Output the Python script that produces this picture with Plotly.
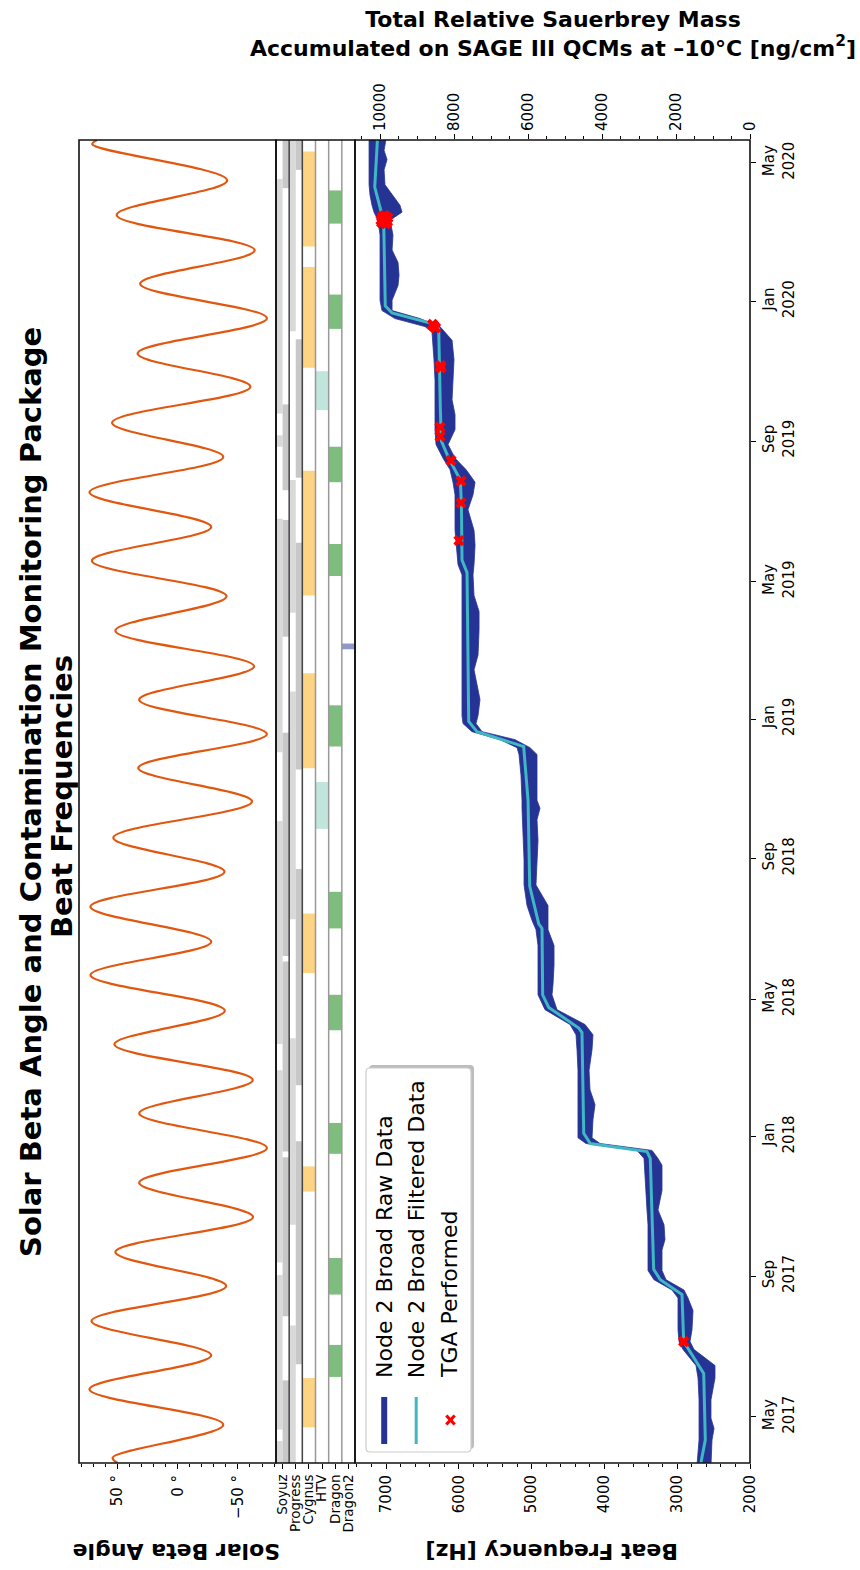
import plotly.graph_objects as go

# ---------------------------------------------------------------- data ----
# Solar beta angle turning points (deg)
beta_dates = [
    "2017-03-21 19:00", "2017-03-26 14:00", "2017-04-24 07:00", "2017-05-25 05:00",
    "2017-06-23 22:00", "2017-07-23 22:00", "2017-08-23 12:00", "2017-09-22 05:00",
    "2017-10-22 19:00", "2017-11-21 19:00", "2017-12-22 02:00", "2018-01-21 10:00",
    "2018-02-19 12:00", "2018-03-22 17:00", "2018-04-21 02:00", "2018-05-22 07:00",
    "2018-06-20 10:00", "2018-07-21 00:00", "2018-08-20 14:00", "2018-09-19 07:00",
    "2018-10-20 22:00", "2018-11-19 05:00", "2018-12-18 22:00", "2019-01-17 22:00",
    "2019-02-16 02:00", "2019-03-19 05:00", "2019-04-18 07:00", "2019-05-19 10:00",
    "2019-06-17 19:00", "2019-07-18 05:00", "2019-08-18 00:00", "2019-09-17 00:00",
    "2019-10-18 12:00", "2019-11-16 14:00", "2019-12-17 05:00", "2020-01-16 12:00",
    "2020-02-14 17:00", "2020-03-16 12:00", "2020-04-15 19:00", "2020-05-17 07:00",
    "2020-05-21 02:00",
]
beta_deg = [
    50.0, 54.0, -37.8, 73.3, -27.8, 71.6, -40.2, 51.8, -62.5, 32.0, -74.1, 32.0,
    -62.3, 52.6, -39.1, 72.5, -27.8, 72.5, -38.8, 53.5, -61.7, 32.8, -74.1, 32.0,
    -63.4, 51.8, -40.5, 71.3, -27.8, 73.3, -37.8, 54.5, -60.3, 33.3, -74.1, 31.2,
    -63.9, 50.7, -41.0, 71.0, 67.0,
]

# Visiting vehicles docked to the ISS (start, end)
vehicle_names = ["Soyuz", "Progress", "Cygnus", "HTV", "Dragon", "Dragon2"]
soyuz_a = [("2017-03-01", "2017-04-10"), ("2017-04-20", "2017-09-02"),
           ("2017-09-13", "2018-02-28"), ("2018-03-23", "2018-10-04"),
           ("2018-12-03", "2019-06-25"), ("2019-08-27", "2019-09-06"),
           ("2019-09-25", "2020-04-17")]
soyuz_b = [("2017-03-01", "2017-06-02"), ("2017-07-28", "2017-12-14"),
           ("2017-12-19", "2018-06-03"), ("2018-06-08", "2018-12-20"),
           ("2019-03-14", "2019-06-24"), ("2019-07-20", "2019-10-03"),
           ("2020-04-09", "2020-06-01")]
progress_a = [("2017-03-01", "2017-07-20"), ("2017-10-16", "2018-03-28"),
              ("2018-07-10", "2019-01-25"), ("2019-04-04", "2019-07-29"),
              ("2019-12-06", "2020-06-01")]
progress_b = [("2017-06-16", "2017-12-28"), ("2018-02-15", "2018-08-23"),
              ("2018-11-18", "2019-06-04"), ("2019-07-31", "2019-11-29"),
              ("2020-04-25", "2020-06-01")]
cygnus = [("2017-04-22", "2017-06-04"), ("2017-11-14", "2017-12-06"),
          ("2018-05-24", "2018-07-15"), ("2018-11-19", "2019-02-10"),
          ("2019-04-19", "2019-08-06"), ("2019-11-04", "2020-01-31"),
          ("2020-02-18", "2020-05-11")]
htv = [("2018-09-27", "2018-11-07"), ("2019-09-28", "2019-11-01")]
dragon = [("2017-06-05", "2017-07-03"), ("2017-08-16", "2017-09-17"),
          ("2017-12-17", "2018-01-13"), ("2018-04-04", "2018-05-05"),
          ("2018-07-02", "2018-08-03"), ("2018-12-08", "2019-01-13"),
          ("2019-05-06", "2019-06-03"), ("2019-07-27", "2019-08-27"),
          ("2019-12-08", "2020-01-07"), ("2020-03-09", "2020-04-07")]
dragon2 = [("2019-03-03", "2019-03-08")]

# Node 2 broad QCM beat frequency: filtered trend (Hz)
filt_dates = [
    "2017-03-20", "2017-04-11", "2017-06-08", "2017-06-29", "2017-07-06", "2017-08-16",
    "2017-08-29", "2017-09-07", "2017-12-13", "2017-12-19", "2017-12-26", "2018-01-04",
    "2018-04-02", "2018-04-06", "2018-04-24", "2018-05-05", "2018-07-02", "2018-07-06",
    "2018-08-08", "2018-10-22", "2018-12-08", "2018-12-21", "2018-12-30", "2019-05-09",
    "2019-05-20", "2019-07-07", "2019-07-29", "2019-08-17", "2019-09-01", "2019-09-30",
    "2019-12-08", "2019-12-13", "2019-12-22", "2019-12-28", "2020-03-11", "2020-04-10",
    "2020-05-22",
]
filt_hz = [
    2680, 2614, 2636, 2842, 2911, 2934, 3232, 3323, 3370, 3415, 4194, 4284,
    4308, 4353, 4765, 4848, 4857, 4902, 5026, 5049, 5109, 5750, 5864, 5887,
    5956, 5964, 5979, 6139, 6240, 6254, 6276, 6391, 6918, 7010, 7032, 7155,
    7117,
]

# Raw data spread: upper and lower frequency envelope (Hz)
raw_dates = [
    "2017-03-20", "2017-04-11", "2017-04-21", "2017-04-30", "2017-05-16", "2017-06-04",
    "2017-06-15", "2017-06-29", "2017-07-06", "2017-07-16", "2017-08-02", "2017-08-13",
    "2017-08-20", "2017-08-29", "2017-09-06", "2017-09-24", "2017-10-03", "2017-10-16",
    "2017-10-29", "2017-11-15", "2017-12-07", "2017-12-13", "2017-12-20", "2017-12-26",
    "2017-12-31", "2018-01-16", "2018-01-29", "2018-02-11", "2018-02-28", "2018-03-18",
    "2018-03-31", "2018-04-09", "2018-04-22", "2018-05-05", "2018-05-14", "2018-05-31",
    "2018-06-17", "2018-07-01", "2018-07-09", "2018-07-22", "2018-08-09", "2018-08-31",
    "2018-09-17", "2018-10-05", "2018-10-15", "2018-10-22", "2018-11-13", "2018-12-01",
    "2018-12-07", "2018-12-14", "2018-12-21", "2018-12-28", "2019-01-04", "2019-01-18",
    "2019-01-28", "2019-02-13", "2019-02-26", "2019-03-20", "2019-04-05", "2019-04-19",
    "2019-05-07", "2019-05-16", "2019-06-02", "2019-06-15", "2019-07-03", "2019-07-16",
    "2019-07-27", "2019-08-07", "2019-08-17", "2019-08-29", "2019-09-11", "2019-09-24",
    "2019-10-07", "2019-10-24", "2019-11-11", "2019-11-28", "2019-12-05", "2019-12-10",
    "2019-12-17", "2019-12-24", "2020-01-02", "2020-01-15", "2020-01-24", "2020-02-04",
    "2020-02-15", "2020-02-28", "2020-03-12", "2020-03-19", "2020-03-25", "2020-04-03",
    "2020-04-12", "2020-04-25", "2020-05-04", "2020-05-12", "2020-05-22",
]
raw_hi_hz = [
    2728, 2700, 2700, 2700, 2700, 2714, 2742, 2920, 2975, 2989, 2989, 2989,
    3071, 3319, 3401, 3401, 3401, 3401, 3415, 3429, 3442, 3456, 3552, 4253,
    4363, 4363, 4363, 4363, 4363, 4376, 4390, 4472, 4816, 4912, 4912, 4912,
    4912, 4940, 4994, 5063, 5104, 5104, 5118, 5132, 5132, 5132, 5146, 5173,
    5200, 5434, 5819, 5942, 5956, 5956, 5956, 5956, 5956, 5956, 5956, 5956,
    5956, 6011, 6038, 6052, 6052, 6052, 6080, 6121, 6217, 6313, 6327, 6327,
    6327, 6327, 6341, 6354, 6368, 6464, 6876, 7055, 7082, 7082, 7082, 7082,
    7082, 7082, 7110, 7165, 7192, 7220, 7233, 7233, 7233, 7233, 7233,
]
raw_lo_hz = [
    2536, 2522, 2494, 2536, 2536, 2481, 2481, 2769, 2824, 2797, 2783, 2852,
    2907, 3154, 3209, 3209, 3168, 3181, 3264, 3209, 3209, 3264, 3346, 4060,
    4170, 4157, 4129, 4198, 4211, 4170, 4157, 4266, 4651, 4720, 4706, 4692,
    4692, 4775, 4775, 4775, 4940, 4926, 4912, 4926, 4885, 4926, 4926, 4926,
    5022, 5228, 5681, 5764, 5736, 5709, 5736, 5791, 5736, 5722, 5722, 5791,
    5805, 5791, 5777, 5791, 5874, 5805, 5777, 5901, 6052, 6148, 6052, 6052,
    6093, 6080, 6066, 6093, 6189, 6258, 6533, 6917, 6917, 6835, 6821, 6835,
    6917, 6904, 6945, 6780, 6808, 6917, 7014, 7027, 6986, 7027, 7000,
]

# Thermogravimetric analyses performed
tga_dates = [
    "2017-07-06", "2019-06-06", "2019-07-09", "2019-07-28", "2019-08-15",
    "2019-09-05", "2019-09-13", "2019-11-04", "2019-11-05", "2019-11-06",
    "2019-12-09", "2019-12-11", "2019-12-12",
    "2020-03-09", "2020-03-10", "2020-03-11", "2020-03-12", "2020-03-13",
    "2020-03-14", "2020-03-15", "2020-03-16",
]
tga_hz = [
    2911, 5997, 5970, 5970, 6107,
    6258, 6258, 6245, 6265, 6250,
    6320, 6350, 6360,
    7000, 7060, 6980, 7069, 7010, 6975, 7050, 7020,
]

date_ticks = ["2017-05-01", "2017-09-01", "2018-01-01", "2018-05-01", "2018-09-01",
              "2019-01-01", "2019-05-01", "2019-09-01", "2020-01-01", "2020-05-01"]
date_ticktext = ["May<br>2017", "Sep<br>2017", "Jan<br>2018", "May<br>2018", "Sep<br>2018",
                 "Jan<br>2019", "May<br>2019", "Sep<br>2019", "Jan<br>2020", "May<br>2020"]
date_range = ["2017-03-21 19:00", "2020-05-21 02:00"]

# -------------------------------------------------------------- styling ----
ORANGE = "#e2570f"
NAVY = "#253494"
CYAN = "#41b6c4"
FONT = "DejaVu Sans"

W, H = 860, 1570
L, R, T, B = 79, 750, 140, 1463          # plot-area edges (px)
PW, PH = R - L, B - T


def px(x):
    return (x - L) / PW


def py(y):
    return (B - y) / PH


beta_dom = [0, px(276)]
veh_dom = [px(276), px(355)]
freq_dom = [px(355), 1]

fig = go.Figure()

fig.add_trace(go.Scatter(
    x=beta_deg, y=beta_dates, xaxis="x", yaxis="y", mode="lines",
    line=dict(color=ORANGE, width=2.2, shape="spline", smoothing=1.0),
    hoverinfo="skip", showlegend=False))

fig.add_trace(go.Scatter(
    x=[None], y=[None], xaxis="x2", yaxis="y", mode="lines",
    hoverinfo="skip", showlegend=False))

fig.add_trace(go.Scatter(
    x=raw_hi_hz + raw_lo_hz[::-1], y=raw_dates + raw_dates[::-1],
    xaxis="x3", yaxis="y", mode="lines", fill="toself", fillcolor=NAVY,
    line=dict(color=NAVY, width=0.8), hoverinfo="skip", showlegend=False))

fig.add_trace(go.Scatter(
    x=filt_hz, y=filt_dates, xaxis="x3", yaxis="y", mode="lines",
    line=dict(color=CYAN, width=3), hoverinfo="skip", showlegend=False))

fig.add_trace(go.Scatter(
    x=tga_hz, y=tga_dates, xaxis="x3", yaxis="y", mode="markers",
    marker=dict(symbol="x", size=10, color="#ff0000", line=dict(width=0)),
    hoverinfo="skip", showlegend=False))

fig.add_trace(go.Scatter(
    x=[None], y=[None], xaxis="x4", yaxis="y", mode="lines",
    hoverinfo="skip", showlegend=False))

shapes = []

# vehicle docking bars
lanes = [
    (soyuz_a, -0.5, 0.0, "#d9d9d9"), (soyuz_b, 0.0, 0.5, "#c8c8c8"),
    (progress_a, 0.5, 1.0, "#d9d9d9"), (progress_b, 1.0, 1.5, "#c8c8c8"),
    (cygnus, 1.5, 2.5, "#fed381"), (htv, 2.5, 3.5, "#bfe5dc"),
    (dragon, 3.5, 4.5, "#7fbd7f"), (dragon2, 4.5, 5.5, "#8f98c9"),
]
for intervals, xa, xb, col in lanes:
    for s, e in intervals:
        s = max(s, date_range[0])
        e = min(e, date_range[1])
        shapes.append(dict(type="rect", xref="x2", yref="y", x0=xa, x1=xb, y0=s, y1=e,
                           fillcolor=col, line=dict(width=0), layer="below"))

# lane separators
for pos, col in [(0.5, "#444444"), (1.5, "#444444"), (2.5, "#999999"),
                 (3.5, "#999999"), (4.5, "#999999")]:
    shapes.append(dict(type="line", xref="x2", yref="paper", x0=pos, x1=pos, y0=0, y1=1,
                       line=dict(color=col, width=1.5)))

# panel frames
for d0, d1 in [beta_dom, veh_dom, freq_dom]:
    shapes.append(dict(type="rect", xref="paper", yref="paper", x0=d0, x1=d1, y0=0, y1=1,
                       line=dict(color="#111111", width=1.6), fillcolor="rgba(0,0,0,0)"))


# legend frame (rounded, with drop shadow)
def rounded_rect(x0, y0, x1, y1, r=4):
    pts = [
        ("M", [(x0 + r, y0)]), ("L", [(x1 - r, y0)]), ("Q", [(x1, y0), (x1, y0 + r)]),
        ("L", [(x1, y1 - r)]), ("Q", [(x1, y1), (x1 - r, y1)]), ("L", [(x0 + r, y1)]),
        ("Q", [(x0, y1), (x0, y1 - r)]), ("L", [(x0, y0 + r)]), ("Q", [(x0, y0), (x0 + r, y0)]),
    ]
    out = []
    for cmd, ps in pts:
        out.append(cmd + " " + " ".join(f"{px(a):.5f},{py(b):.5f}" for a, b in ps))
    return " ".join(out) + " Z"


shapes.append(dict(type="path", xref="paper", yref="paper",
                   path=rounded_rect(369, 1065, 474, 1449),
                   fillcolor="#bdbdbd", line=dict(width=0)))
shapes.append(dict(type="path", xref="paper", yref="paper",
                   path=rounded_rect(366, 1068, 471, 1452),
                   fillcolor="white", line=dict(color="#cccccc", width=1.2)))
shapes.append(dict(type="line", xref="paper", yref="paper",
                   x0=px(384.2), x1=px(384.2), y0=py(1444), y1=py(1397),
                   line=dict(color=NAVY, width=6)))
shapes.append(dict(type="line", xref="paper", yref="paper",
                   x0=px(416.2), x1=px(416.2), y0=py(1444), y1=py(1397),
                   line=dict(color=CYAN, width=3)))
for (a, b), (c, d) in [((446.3, 1415.5), (454.7, 1424.5)), ((446.3, 1424.5), (454.7, 1415.5))]:
    shapes.append(dict(type="line", xref="paper", yref="paper",
                       x0=px(a), y0=py(b), x1=px(c), y1=py(d),
                       line=dict(color="#ff0000", width=3.2)))

title_font = dict(family=FONT, size=29, color="black")
annotations = [
    dict(text="<b>Solar Beta Angle and Contamination Monitoring Package</b>",
         xref="paper", yref="paper", x=px(31), y=py(792), textangle=-90,
         xanchor="center", yanchor="middle", showarrow=False, font=title_font),
    dict(text="<b>Beat Frequencies</b>",
         xref="paper", yref="paper", x=px(62), y=py(797), textangle=-90,
         xanchor="center", yanchor="middle", showarrow=False, font=title_font),
    dict(text="<b>Total Relative Sauerbrey Mass<br>Accumulated on SAGE III QCMs at \u201310\u00b0C [ng/cm<sup>2</sup>]</b>",
         xref="paper", yref="paper", x=px(552.5), y=py(34),
         xanchor="center", yanchor="middle", showarrow=False,
         font=dict(family=FONT, size=22, color="black")),
    dict(text="<b>Beat Frequency [Hz]</b>", xref="paper", yref="paper",
         x=px(552.5), y=py(1552), textangle=180, xanchor="center", yanchor="middle",
         showarrow=False, font=dict(family=FONT, size=22, color="black")),
    dict(text="<b>Solar Beta Angle</b>", xref="paper", yref="paper",
         x=px(176.5), y=py(1551), textangle=180, xanchor="center", yanchor="middle",
         showarrow=False, font=dict(family=FONT, size=22, color="black")),
]
for label, xc in [("Node 2 Broad Raw Data", 384.5), ("Node 2 Broad Filtered Data", 416.2),
                  ("TGA Performed", 449.5)]:
    annotations.append(dict(text=label, xref="paper", yref="paper", x=px(xc), y=py(1380),
                            textangle=-90, xanchor="center", yanchor="bottom",
                            showarrow=False, font=dict(family=FONT, size=22, color="black")))

tick_font = dict(family=FONT, size=15, color="black")
common = dict(showgrid=False, zeroline=False, showline=False, ticks="outside",
              ticklen=5, tickwidth=1.2, tickcolor="black", tickangle=-90)

fig.update_layout(
    width=W, height=H, template="none",
    margin=dict(l=L, r=W - R, t=T, b=H - B, pad=0),
    paper_bgcolor="white", plot_bgcolor="white",
    font=dict(family=FONT, color="black"),
    hovermode=False, showlegend=False,
    xaxis=dict(domain=beta_dom, anchor="y", range=[82, -81.6], tick0=0, dtick=50,
               ticksuffix=" \u00b0", tickfont=tick_font,
               minor=dict(ticks="outside", ticklen=3, tick0=0, dtick=10, tickcolor="black"),
               **common),
    xaxis2=dict(domain=veh_dom, anchor="y", range=[-0.5, 5.5], tickmode="array",
                tickvals=list(range(len(vehicle_names))), ticktext=vehicle_names,
                tickfont=dict(family=FONT, size=13.5, color="black"), **common),
    xaxis3=dict(domain=freq_dom, anchor="y", range=[7426, 2000], tick0=0, dtick=1000,
                tickformat="d", tickfont=tick_font,
                minor=dict(ticks="outside", ticklen=3, tick0=0, dtick=200, tickcolor="black"),
                **common),
    xaxis4=dict(overlaying="x3", anchor="y", side="top", range=[10676, 0], tick0=0,
                dtick=2000, tickformat="d", tickfont=tick_font,
                minor=dict(ticks="outside", ticklen=3, tick0=0, dtick=500, tickcolor="black"),
                **common),
    yaxis=dict(domain=[0, 1], anchor="x3", side="right", type="date", range=date_range,
               tickmode="array", tickvals=date_ticks, ticktext=date_ticktext,
               tickfont=tick_font, **common),
    shapes=shapes,
    annotations=annotations,
)

fig.write_html("out.html")
